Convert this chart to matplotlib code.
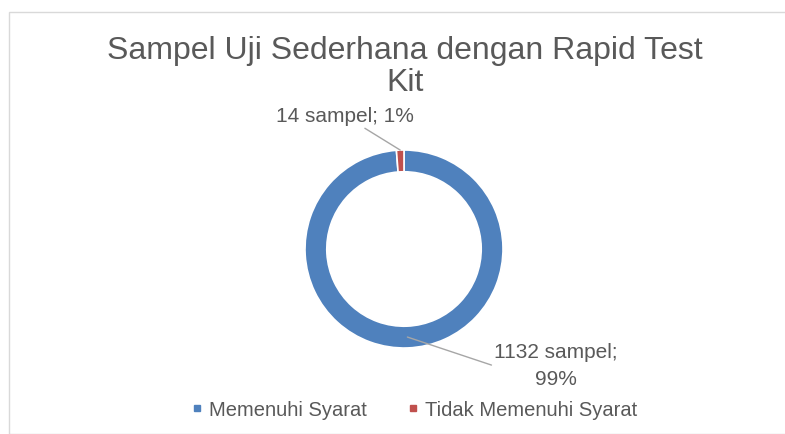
import matplotlib
import numpy as np

matplotlib.use("Agg")
import matplotlib.pyplot as plt
from matplotlib.lines import Line2D
from matplotlib.patches import Rectangle

plt.rcParams["font.family"] = ["Liberation Sans", "DejaVu Sans"]

categories = ["Memenuhi Syarat", "Tidak Memenuhi Syarat"]
counts = [1132, 14]
pct_labels = ["99%", "1%"]
colors = ["#4F81BD", "#C0504D"]
gray = "#595959"

W, H = 785, 434
fig = plt.figure(figsize=(W / 100, H / 100), dpi=100)
fig.patches.append(Rectangle((9 / W, 0), 1, 1 - 12 / H, transform=fig.transFigure,
                             fill=False, edgecolor="#d9d9d9", linewidth=1))

# donut axes: centre (404, 249) px, radius 99 px
cx, cy, r = 404, 249, 99
ax = fig.add_axes([(cx - r) / W, (H - cy - r) / H, 2 * r / W, 2 * r / H])
wedges, _ = ax.pie(counts, colors=colors, startangle=90, counterclock=False,
                   wedgeprops=dict(width=0.22, edgecolor="white", linewidth=1.2))
ax.set_xlim(-1, 1)
ax.set_ylim(-1, 1)
ax.set_aspect("equal")

# data labels with leader lines
text_pos = [(556, 366), (345, 116)]
texts = [f"{counts[0]} sampel;\n{pct_labels[0]}", f"{counts[1]} sampel; {pct_labels[1]}"]
radii = [0.89, 1.0]
for w, (tx, ty), t, rr in zip(wedges, text_pos, texts, radii):
    ang = np.deg2rad((w.theta1 + w.theta2) / 2)
    xy = (rr * np.cos(ang), rr * np.sin(ang))
    ax.annotate(t, xy=xy, xytext=(tx / W, 1 - ty / H), textcoords="figure fraction",
                ha="center", va="center", fontsize=15, color=gray, linespacing=1.5,
                arrowprops=dict(arrowstyle="-", color="#a6a6a6", lw=1,
                                shrinkA=0, shrinkB=0, relpos=(0.5, 0.5) if t.startswith("14") else (0, 0.5)),
                annotation_clip=False)

fig.text(405 / W, 1 - 67 / H, "Sampel Uji Sederhana dengan Rapid Test\nKit", ha="center", va="center",
         fontsize=23, color=gray, linespacing=1.1)

handles = [Line2D([], [], marker="s", linestyle="", markersize=5, color=c) for c in colors]
fig.legend(handles, categories, loc="center", bbox_to_anchor=(414 / W, 1 - 410 / H), ncol=2,
           frameon=False, fontsize=14.5, labelcolor=gray, handlelength=0.6, handletextpad=0.3,
           columnspacing=2.0)

fig.savefig("out.png", dpi=100)
